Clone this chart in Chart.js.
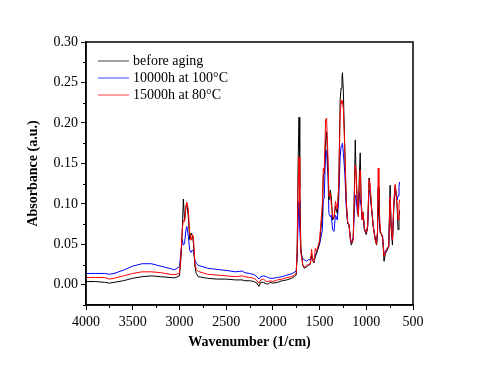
<!DOCTYPE html>
<html>
<head>
<meta charset="utf-8">
<script src="https://cdn.jsdelivr.net/npm/chart.js@4.4.1/dist/chart.umd.min.js"></script>
<style>
  html, body { margin: 0; padding: 0; background: #fff; }
  #wrap { width: 480px; height: 367px; }
</style>
</head>
<body>
<div id="wrap"><canvas id="ftirChart" width="480" height="367"></canvas></div>
<script>
// wavenumbers (1/cm)
const wavenumbers = [
  4000, 3900, 3800, 3750, 3700, 3600, 3500, 3400, 3300, 3200,
  3100, 3050, 3000, 2985, 2970, 2958, 2945, 2930, 2920, 2905,
  2890, 2875, 2860, 2850, 2835, 2820, 2800, 2700, 2600, 2500,
  2400, 2330, 2300, 2250, 2200, 2170, 2150, 2130, 2100, 2070,
  2050, 2030, 2000, 1950, 1900, 1850, 1800, 1770, 1750, 1740,
  1730, 1720, 1712, 1700, 1680, 1664, 1640, 1620, 1600, 1585,
  1575, 1560, 1545, 1530, 1500, 1470, 1460, 1450, 1435, 1425,
  1410, 1400, 1385, 1375, 1360, 1345, 1330, 1310, 1295, 1280,
  1270, 1260, 1255, 1245, 1230, 1215, 1200, 1185, 1170, 1160,
  1140, 1125, 1118, 1110, 1095, 1085, 1075, 1065, 1055, 1045,
  1035, 1020, 1000, 985, 970, 960, 945, 925, 905, 890,
  880, 872, 865, 850, 835, 825, 810, 795, 775, 760,
  745, 735, 720, 705, 690, 680, 670, 660, 650, 643
];

const beforeAging = [
  0.004, 0.004, 0.003, 0.002, 0.003, 0.005, 0.008, 0.010, 0.011, 0.010,
  0.009, 0.0085, 0.011, 0.031, 0.064, 0.106, 0.080, 0.097, 0.100, 0.084,
  0.056, 0.064, 0.060, 0.051, 0.023, 0.014, 0.010, 0.008, 0.007, 0.007,
  0.006, 0.006, 0.005, 0.005, 0.004, 0.002, -0.002, 0.003, 0.003, 0.001,
  0.001, 0.003, 0.002, 0.003, 0.005, 0.006, 0.008, 0.010, 0.012, 0.040,
  0.150, 0.207, 0.120, 0.045, 0.024, 0.0205, 0.022, 0.024, 0.025, 0.038,
  0.030, 0.027, 0.035, 0.040, 0.052, 0.088, 0.134, 0.138, 0.179, 0.189,
  0.146, 0.105, 0.117, 0.109, 0.080, 0.084, 0.097, 0.088, 0.121, 0.228,
  0.243, 0.255, 0.262, 0.237, 0.167, 0.105, 0.076, 0.074, 0.056, 0.049,
  0.056, 0.130, 0.179, 0.140, 0.097, 0.088, 0.134, 0.163, 0.105, 0.084,
  0.090, 0.068, 0.062, 0.072, 0.132, 0.121, 0.097, 0.072, 0.056, 0.049,
  0.064, 0.121, 0.088, 0.064, 0.062, 0.058, 0.029, 0.039, 0.043, 0.047,
  0.123, 0.072, 0.049, 0.097, 0.123, 0.111, 0.097, 0.068, 0.084, 0.092
];

const aged100C = [
  0.014, 0.014, 0.014, 0.013, 0.014, 0.018, 0.023, 0.026, 0.026, 0.023,
  0.020, 0.0185, 0.0225, 0.039, 0.056, 0.049, 0.051, 0.068, 0.072, 0.060,
  0.043, 0.040, 0.043, 0.041, 0.031, 0.027, 0.024, 0.0205, 0.019, 0.0177,
  0.016, 0.017, 0.015, 0.014, 0.0125, 0.010, 0.007, 0.010, 0.011, 0.010,
  0.009, 0.008, 0.008, 0.009, 0.010, 0.012, 0.0135, 0.0155, 0.017, 0.035,
  0.075, 0.103, 0.070, 0.040, 0.032, 0.031, 0.029, 0.031, 0.031, 0.036,
  0.030, 0.032, 0.036, 0.040, 0.050, 0.068, 0.105, 0.107, 0.167, 0.164,
  0.134, 0.088, 0.084, 0.086, 0.068, 0.066, 0.086, 0.080, 0.105, 0.158,
  0.171, 0.172, 0.175, 0.162, 0.138, 0.097, 0.076, 0.074, 0.058, 0.052,
  0.058, 0.097, 0.111, 0.109, 0.088, 0.086, 0.115, 0.105, 0.097, 0.080,
  0.088, 0.068, 0.064, 0.072, 0.117, 0.115, 0.095, 0.072, 0.058, 0.051,
  0.064, 0.118, 0.088, 0.064, 0.062, 0.060, 0.037, 0.042, 0.045, 0.048,
  0.105, 0.075, 0.055, 0.100, 0.121, 0.111, 0.105, 0.110, 0.121, 0.127
];

const aged80C = [
  0.009, 0.009, 0.009, 0.007, 0.008, 0.011, 0.014, 0.016, 0.016, 0.015,
  0.013, 0.0125, 0.014, 0.035, 0.068, 0.080, 0.078, 0.097, 0.102, 0.093,
  0.064, 0.055, 0.062, 0.059, 0.027, 0.019, 0.0165, 0.013, 0.012, 0.011,
  0.010, 0.011, 0.010, 0.009, 0.008, 0.005, 0.002, 0.006, 0.007, 0.004,
  0.004, 0.005, 0.004, 0.006, 0.007, 0.009, 0.010, 0.012, 0.014, 0.040,
  0.120, 0.158, 0.100, 0.040, 0.025, 0.022, 0.024, 0.025, 0.026, 0.044,
  0.030, 0.028, 0.045, 0.042, 0.055, 0.100, 0.144, 0.140, 0.204, 0.206,
  0.158, 0.109, 0.113, 0.100, 0.084, 0.082, 0.103, 0.093, 0.121, 0.208,
  0.228, 0.224, 0.226, 0.216, 0.167, 0.105, 0.078, 0.074, 0.056, 0.052,
  0.056, 0.121, 0.148, 0.142, 0.097, 0.084, 0.121, 0.142, 0.107, 0.080,
  0.090, 0.070, 0.064, 0.074, 0.130, 0.125, 0.097, 0.072, 0.056, 0.050,
  0.066, 0.144, 0.105, 0.066, 0.062, 0.057, 0.035, 0.041, 0.045, 0.047,
  0.109, 0.075, 0.055, 0.103, 0.124, 0.111, 0.100, 0.080, 0.100, 0.105
];

const seriesLabels = ['before aging', '10000h at 100°C', '15000h at 80°C'];
const seriesColors = ['#000000', '#0000ff', '#ff0000'];
const xTicks = [4000, 3500, 3000, 2500, 2000, 1500, 1000, 500];
const yTicks = [0.00, 0.05, 0.10, 0.15, 0.20, 0.25, 0.30];

const FONT = "'Liberation Serif', 'Times New Roman', serif";

function toPoints(values) {
    return wavenumbers.map((w, i) => ({ x: w, y: values[i] }));
}

// full frame, minor ticks and the in-plot legend
const framePlugin = {
    id: 'frame',
    afterDraw(chart) {
        const { ctx, chartArea: a, scales } = chart;
        ctx.save();
        ctx.strokeStyle = '#000';
        ctx.lineWidth = 1.5;
        ctx.strokeRect(a.left, a.top, a.right - a.left, a.bottom - a.top);

        // minor ticks
        ctx.lineWidth = 1;
        ctx.beginPath();
        for (let i = 0; i < yTicks.length; i++) {
            const py = Math.round(scales.y.getPixelForValue(yTicks[i] - 0.025)) + 0.5;
            ctx.moveTo(a.left - 3, py);
            ctx.lineTo(a.left, py);
        }
        for (let i = 0; i < xTicks.length - 1; i++) {
            const px = Math.round(scales.x.getPixelForValue(xTicks[i] - 250)) + 0.5;
            ctx.moveTo(px, a.bottom);
            ctx.lineTo(px, a.bottom + 3);
        }
        ctx.stroke();

        // legend
        ctx.font = '14px ' + FONT;
        ctx.textBaseline = 'middle';
        ctx.fillStyle = '#000';
        seriesLabels.forEach((lab, i) => {
            const ly = 61 + i * 17;
            ctx.strokeStyle = seriesColors[i];
            ctx.globalAlpha = 0.75;
            ctx.beginPath();
            ctx.moveTo(98, ly);
            ctx.lineTo(129, ly);
            ctx.stroke();
            ctx.globalAlpha = 1;
            ctx.fillText(lab, 133, ly);
        });
        ctx.restore();
    }
};

const ctx = document.getElementById('ftirChart').getContext('2d');
new Chart(ctx, {
    type: 'line',
    data: {
        datasets: [
            { label: seriesLabels[0], data: toPoints(beforeAging), borderColor: seriesColors[0], order: 1 },
            { label: seriesLabels[1], data: toPoints(aged100C), borderColor: seriesColors[1], order: 2 },
            { label: seriesLabels[2], data: toPoints(aged80C), borderColor: seriesColors[2], order: 0 }
        ]
    },
    options: {
        responsive: false,
        animation: false,
        devicePixelRatio: 1,
        layout: { padding: { left: 0, right: 67, top: 42, bottom: 0 } },
        elements: {
            line: { borderWidth: 1, tension: 0 },
            point: { radius: 0 }
        },
        plugins: {
            legend: { display: false },
            tooltip: { enabled: false }
        },
        scales: {
            x: {
                type: 'linear',
                reverse: true,
                min: 500,
                max: 4000,
                afterFit: (s) => { s.height = 62; },
                border: { display: true, color: '#000', width: 1.5 },
                grid: { drawOnChartArea: false, drawTicks: true, tickLength: 5, color: '#000' },
                ticks: {
                    stepSize: 500,
                    padding: 4,
                    color: '#000',
                    maxRotation: 0,
                    font: { family: FONT, size: 14 },
                    callback: (v) => String(v)
                },
                title: {
                    display: true,
                    text: 'Wavenumber (1/cm)',
                    color: '#000',
                    font: { family: FONT, size: 14, weight: 'bold' },
                    padding: { top: 16, bottom: 16 }
                }
            },
            y: {
                min: -0.025,
                max: 0.30,
                afterFit: (s) => { s.width = 86; },
                border: { display: true, color: '#000', width: 1.5 },
                grid: { drawOnChartArea: false, drawTicks: true, tickLength: 5, color: '#000' },
                ticks: {
                    stepSize: 0.05,
                    includeBounds: false,
                    padding: 3,
                    color: '#000',
                    font: { family: FONT, size: 14 },
                    callback: (v) => v.toFixed(2)
                },
                title: {
                    display: true,
                    text: 'Absorbance (a.u.)',
                    color: '#000',
                    font: { family: FONT, size: 14, weight: 'bold' },
                    padding: { top: 25, bottom: 25 }
                }
            }
        }
    },
    plugins: [framePlugin]
});
</script>
</body>
</html>
